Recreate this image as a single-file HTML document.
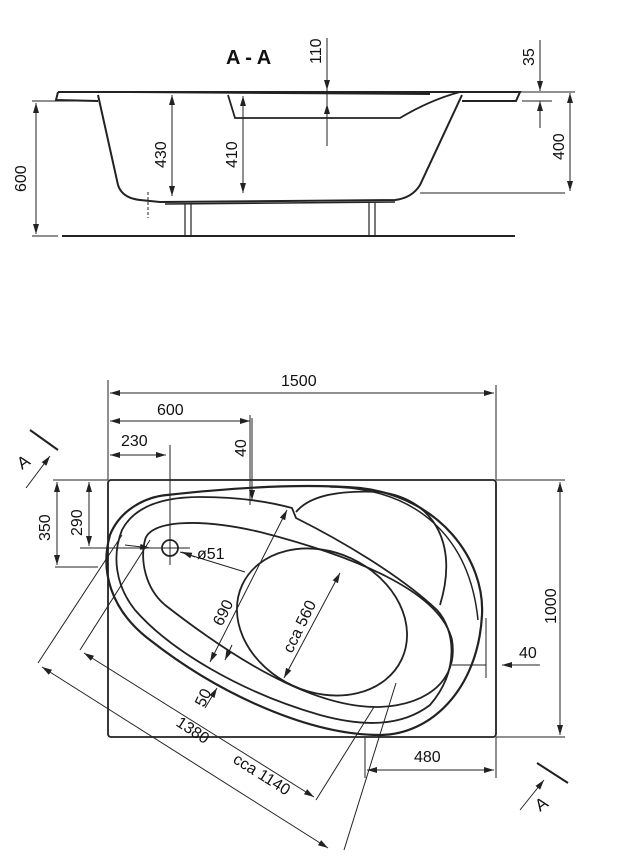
<!DOCTYPE html>
<html><head><meta charset="utf-8"><style>
html,body{margin:0;padding:0;background:#fff}
svg{display:block}
text{font-family:"Liberation Sans",sans-serif;font-size:16px;fill:#111}
</style></head><body>
<svg width="620" height="867" viewBox="0 0 620 867" xmlns="http://www.w3.org/2000/svg">
<defs>
<marker id="a" viewBox="0 0 10 6" refX="10" refY="3" markerWidth="10" markerHeight="6" orient="auto-start-reverse" markerUnits="userSpaceOnUse"><path d="M0,0 L10,3 L0,6 Z" fill="#222"/></marker>
</defs>
<g stroke="#222" fill="none" stroke-width="1">
<!-- SIDE VIEW -->
<path d="M58,92 L520,92 L516,101 L462,101 M58,92 L56,100 L98,101" stroke-width="2"/>
<path d="M98,95 L118,185 Q122,198 140,200 L160,202 L395,200 Q412,198 420,185 L462,95" stroke-width="2"/>
<path d="M420,193 L565,193" />
<path d="M165,204 L395,202" stroke-width="1.5"/>
<path d="M228,95 L235,118 L400,118 Q430,100 460,92" stroke-width="1.8"/>
<path d="M130,92 L430,94" stroke-width="2"/>
<path d="M62,236 L515,236" stroke-width="2"/>
<path d="M185,204 V236 M191,204 V236 M369,203 V236 M375,203 V236" stroke-width="1.2"/>
<path d="M148,192 V218" stroke-dasharray="3,2"/>
<path d="M32,101 L98,101 M32,236 L58,236"/>
<path d="M36,103 V234" marker-start="url(#a)" marker-end="url(#a)"/>
<path d="M172,95 V196" marker-start="url(#a)" marker-end="url(#a)"/>
<path d="M243,96 V193" marker-start="url(#a)" marker-end="url(#a)"/>
<path d="M327,38 V90" marker-end="url(#a)"/>
<path d="M327,146 V104" marker-end="url(#a)"/>
<path d="M327,90 V104"/>
<path d="M540,40 V91" marker-end="url(#a)"/>
<path d="M540,128 V101" marker-end="url(#a)"/>
<path d="M522,101 L552,101"/>
<path d="M570,93 V191" marker-start="url(#a)" marker-end="url(#a)"/>
<path d="M520,92 L575,92"/>

<!-- TOP VIEW -->
<rect x="108" y="480" width="388" height="257" rx="3" stroke-width="1.8"/>
<path d="M108,380 V480 M496,385 V480 M250,415 V505 M170,445 V565"/>
<path d="M110,393 L494,393" marker-start="url(#a)" marker-end="url(#a)"/>
<path d="M110,421 L250,421" marker-start="url(#a)" marker-end="url(#a)"/>
<path d="M110,455 L166,455" marker-start="url(#a)" marker-end="url(#a)"/>
<path d="M252,418 V500" marker-end="url(#a)"/>
<path d="M496,480 H565 M496,737 H565"/>
<path d="M560,482 V735" marker-start="url(#a)" marker-end="url(#a)"/>
<path d="M53,480 H108 M55,567 H98 M80,548 H190"/>
<path d="M57,482 V565" marker-start="url(#a)" marker-end="url(#a)"/>
<path d="M89,482 V546" marker-start="url(#a)" marker-end="url(#a)"/>
<path d="M365,737 V778 M496,737 V778"/>
<path d="M367,770 L494,770" marker-start="url(#a)" marker-end="url(#a)"/>
<path d="M486,618 V678 M452,665 H486"/>
<path d="M540,665 L502,665" marker-end="url(#a)"/>
<!-- tub -->
<path d="M167,495 C230,488 300,483 360,488 C440,497 485,560 482,615 C478,690 430,735 380,735 C310,735 220,695 150,640 C110,610 100,570 110,535 C120,510 145,497 167,495 Z" stroke-width="2.2"/>
<path d="M200,497 C240,497 270,502 292,508 L296,518 C340,540 400,575 437,610 C455,630 460,670 430,705 C400,728 360,726 320,715 C240,692 170,650 135,610 C115,585 112,555 122,530 C135,505 165,497 200,497 Z" stroke-width="1.8"/>
<path d="M296,512 C310,495 340,490 380,492 C430,498 460,540 440,605" stroke-width="1.8"/>
<path d="M330,487 C420,488 470,540 478,620" stroke-width="1.5"/>
<path d="M145,540 C150,520 200,518 260,532 C350,555 440,590 452,640 C460,690 410,712 360,706 C290,698 210,640 165,605 C145,588 140,560 145,540 Z" stroke-width="1.8"/>
<ellipse cx="322" cy="622" rx="88" ry="70" transform="rotate(25 322 622)" stroke-width="1.8"/>
<circle cx="170" cy="548" r="8" stroke-width="1.8"/>
<path d="M180,552 L245,572"/>
<path d="M195,557 L182,552" marker-end="url(#a)"/>
<path d="M125,545 L150,548" marker-end="url(#a)"/>
<!-- diagonal dims -->
<path d="M38,663 L122,535 M344,850 L396,683 M80,650 L150,540 M316,800 L374,707"/>
<path d="M42,667 L328,848" marker-start="url(#a)" marker-end="url(#a)"/>
<path d="M84,653 L314,797" marker-start="url(#a)" marker-end="url(#a)"/>
<path d="M210,662 L287,510" marker-start="url(#a)" marker-end="url(#a)"/>
<path d="M284,678 L340,573" marker-start="url(#a)" marker-end="url(#a)"/>
<path d="M205,708 L217,688" marker-end="url(#a)"/>
<path d="M232,645 L225,660" marker-end="url(#a)"/>
<!-- section markers -->
<path d="M30,430 L58,450" stroke-width="2"/>
<path d="M26,488 L50,456" marker-end="url(#a)"/>
<path d="M537,763 L568,783" stroke-width="2"/>
<path d="M520,810 L544,780" marker-end="url(#a)"/>
</g>
<g>
<text x="226" y="64" style="font-size:20px;font-weight:bold">A - A</text>
<text transform="translate(321,64) rotate(-90)">110</text>
<text transform="translate(534,66) rotate(-90)">35</text>
<text transform="translate(564,160) rotate(-90)">400</text>
<text transform="translate(26,192) rotate(-90)">600</text>
<text transform="translate(166,168) rotate(-90)">430</text>
<text transform="translate(237,168) rotate(-90)">410</text>
<text x="281" y="386">1500</text>
<text x="157" y="415">600</text>
<text x="121" y="446">230</text>
<text transform="translate(246,457) rotate(-90)">40</text>
<text transform="translate(50,541) rotate(-90)">350</text>
<text transform="translate(82,536) rotate(-90)">290</text>
<text transform="translate(556,624) rotate(-90)">1000</text>
<text x="519" y="658">40</text>
<text x="414" y="762">480</text>
<text x="197" y="559">ø51</text>
<text transform="translate(222,627) rotate(-64)">690</text>
<text transform="translate(292,654) rotate(-64)">cca 560</text>
<text transform="translate(204,708) rotate(-64)">50</text>
<text transform="translate(175,725) rotate(33)">1380</text>
<text transform="translate(232,762) rotate(32)">cca 1140</text>
<text transform="translate(22,470) rotate(-35)" style="font-size:17px">A</text>
<text transform="translate(540,812) rotate(-35)" style="font-size:17px">A</text>
</g>
</svg>
</body></html>
